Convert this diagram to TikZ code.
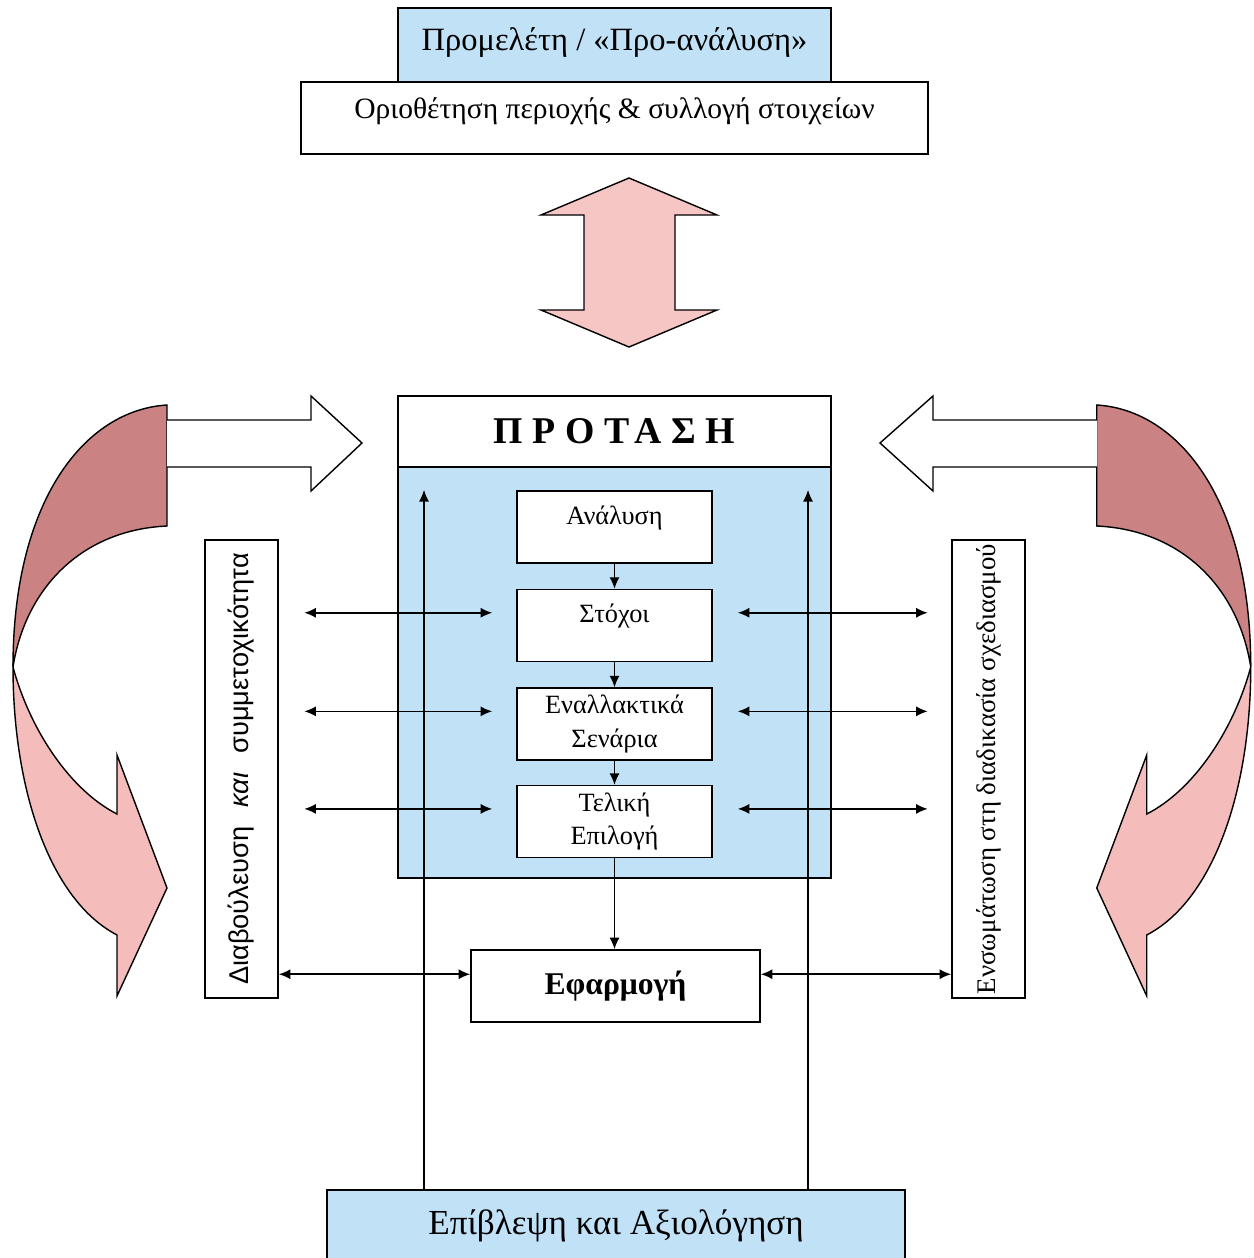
\documentclass[tikz,border=0pt]{standalone}
\usepackage{fontspec}
\setmainfont{Liberation Serif}
\setsansfont{Liberation Sans}
\usepackage{graphicx}
\usetikzlibrary{positioning, arrows.meta, calc}

\definecolor{paleblue}{RGB}{193,225,246}
\definecolor{rosedark}{RGB}{203,130,130}
\definecolor{roselight}{RGB}{244,188,186}
\definecolor{rosepale}{RGB}{246,198,196}

\tikzset{
  box/.style={draw, line width=0.9pt, inner sep=0pt, align=center},
  stage/.style={box, fill=white, minimum width=3.9cm, minimum height=1.44cm,
    font=\fontsize{15}{19}\selectfont},
  oneline/.style={text depth=0.48cm},
  link/.style={line width=0.8pt, -{Latex[length=2.3mm,width=2mm]}},
  twoway/.style={line width=0.9pt,
    {Latex[length=2.3mm,width=2mm]}-{Latex[length=2.3mm,width=2mm]}},
  blockarrow/.style={draw, line width=0.8pt, line join=miter},
}

% bent block arrow on the left side (mirrored for the right side)
\newcommand{\bentarrow}{%
  \draw[blockarrow, fill=rosedark] (167,405) .. controls (85,410) and (13,500) .. (13,667)
    .. controls (25,590) and (80,530) .. (167,526) -- cycle;
  \draw[blockarrow, fill=roselight] (13,667) .. controls (13,790) and (50,900) .. (117,935)
    -- (117,996) -- (167,888) -- (117,755) -- (117,814)
    .. controls (70,790) and (30,730) .. (13,667) -- cycle;
}

\begin{document}
\begin{tikzpicture}[x=0.02cm, y=-0.02cm]
    \useasboundingbox (0,0) rectangle (1254,1258);

    % preliminary stage
    \node[box, fill=paleblue, minimum width=8.66cm, minimum height=1.48cm, text depth=0.25cm,
      font=\fontsize{18.5}{22}\selectfont] (pre) at (614.5,45) {Προμελέτη / «Προ-ανάλυση»};
    \node[box, fill=white, minimum width=12.54cm, minimum height=1.44cm, text depth=0.38cm,
      font=\fontsize{16.8}{20}\selectfont] (limits) at (614.5,118)
      {Οριοθέτηση περιοχής \& συλλογή στοιχείων};

    % two-way block arrow
    \draw[blockarrow, fill=rosepale] (629,178) -- (717,215) -- (675,215) -- (675,310)
      -- (717,310) -- (629,347) -- (541,310) -- (584,310) -- (584,215) -- (541,215) -- cycle;

    % side bent arrows
    \bentarrow
    \begin{scope}[xshift=25.28cm, xscale=-1]
        \bentarrow
    \end{scope}
    \draw[blockarrow, fill=white] (167,420) -- (311,420) -- (311,396) -- (362,443)
      -- (311,491) -- (311,467) -- (167,467);
    \draw[blockarrow, fill=white] (1097,420) -- (933,420) -- (933,396) -- (880,443)
      -- (933,491) -- (933,467) -- (1097,467);

    % proposal frame
    \node[box, fill=paleblue, minimum width=8.66cm, minimum height=8.22cm] (body) at (614.5,672.5) {};
    \node[box, fill=white, minimum width=8.66cm, minimum height=1.42cm,
      font=\bfseries\fontsize{21.5}{26}\selectfont\addfontfeature{LetterSpace=25}] (prop) at (614.5,431.5) {ΠΡΟΤΑΣΗ};

    % stages
    \node[stage, oneline] (ana) at (614.5,527) {Ανάλυση};
    \node[stage, oneline, below=0.5cm of ana] (goal) {Στόχοι};
    \node[stage, below=0.5cm of goal] (alt) {Εναλλακτικά\\Σενάρια};
    \node[stage, below=0.48cm of alt] (final) {Τελική\\Επιλογή};
    \node[box, fill=white, minimum width=5.78cm, minimum height=1.44cm,
      font=\bfseries\fontsize{18}{22}\selectfont] (impl) at (615.5,986) {Εφαρμογή};

    % side boxes
    \node[box, minimum width=1.46cm, minimum height=9.16cm,
      font=\sffamily\fontsize{15.5}{18}\selectfont] (consult) at (241.5,769)
      {\rotatebox{90}{Διαβούλευση\hspace{0.7em}\textit{και}\hspace{0.7em}συμμετοχικότητα}};
    \node[box, minimum width=1.46cm, minimum height=9.16cm,
      font=\fontsize{15.3}{18}\selectfont] (embed) at (988.5,769)
      {\rotatebox{90}{Ενσωμάτωση στη διαδικασία σχεδιασμού}};

    % monitoring
    \node[box, fill=paleblue, minimum width=11.56cm, minimum height=1.44cm,
      font=\fontsize{20}{24}\selectfont] (eval) at (616,1226) {Επίβλεψη και Αξιολόγηση};

    % flow
    \draw[link] (ana) -- (goal);
    \draw[link] (goal) -- (alt);
    \draw[link] (alt) -- (final);
    \draw[link] (final.south) -- (final.south |- impl.north);
    \foreach \s in {goal, alt, final} {
        \draw[twoway] ([xshift=-4.24cm, yshift=-0.48cm]\s.north west) -- ([xshift=-0.48cm, yshift=-0.48cm]\s.north west);
        \draw[twoway] ([xshift=0.5cm, yshift=-0.48cm]\s.north east) -- ([xshift=4.3cm, yshift=-0.48cm]\s.north east);
    }
    \coordinate (implL) at ([yshift=-0.5cm]impl.north west);
    \coordinate (implR) at ([yshift=-0.5cm]impl.north east);
    \draw[twoway] (consult.east |- implL) -- (implL);
    \draw[twoway] (implR) -- (embed.west |- implR);

    % feedback lines
    \coordinate (upL) at (424,490);
    \coordinate (upR) at (808,490);
    \draw[link, line width=0.6pt] (eval.north -| upL) -- (upL);
    \draw[link, line width=0.6pt] (eval.north -| upR) -- (upR);
\end{tikzpicture}
\end{document}
